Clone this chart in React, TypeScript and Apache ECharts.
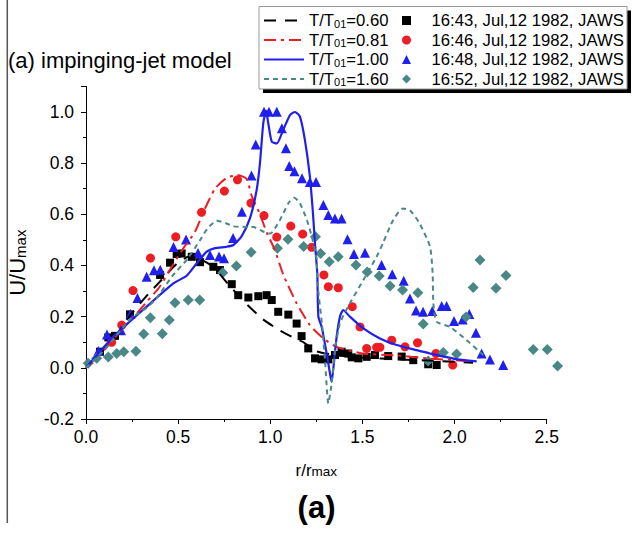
import React, { useEffect, useRef } from "react";
import * as echarts from "echarts";

const FONT = "'Liberation Sans', Arial, Helvetica, sans-serif";

// ---- observed data (JAWS, Jul 12 1982) ----
const jaws1643X = [0.076, 0.121, 0.157, 0.239, 0.402, 0.456, 0.492, 0.519, 0.574, 0.619, 0.691, 0.727, 0.791, 0.826, 0.881, 0.935, 0.98, 1.008, 1.043, 1.098, 1.143, 1.17, 1.206, 1.243, 1.279, 1.315, 1.351, 1.387, 1.423, 1.442, 1.478, 1.523, 1.568, 1.64, 1.713, 1.776, 1.857, 1.903];
const jaws1643Y = [0.063, 0.119, 0.125, 0.209, 0.363, 0.411, 0.445, 0.447, 0.434, 0.413, 0.395, 0.382, 0.327, 0.284, 0.275, 0.28, 0.284, 0.265, 0.219, 0.208, 0.173, 0.124, 0.076, 0.037, 0.033, 0.033, 0.05, 0.063, 0.056, 0.041, 0.037, 0.043, 0.05, 0.046, 0.044, 0.03, 0.014, 0.011];

const jaws1646X = [0.139, 0.194, 0.255, 0.35, 0.487, 0.627, 0.751, 0.822, 0.895, 0.966, 1.035, 1.111, 1.176, 1.225, 1.291, 1.315, 1.369, 1.445, 1.487, 1.523, 1.577, 1.595, 1.659, 1.731, 1.799, 1.899, 1.99];
const jaws1646Y = [0.1, 0.167, 0.302, 0.429, 0.512, 0.608, 0.691, 0.735, 0.644, 0.595, 0.511, 0.554, 0.523, 0.471, 0.363, 0.317, 0.313, 0.239, 0.16, 0.076, 0.08, 0.08, 0.108, 0.082, 0.098, 0.056, 0.011];

const jaws1648X = [0.067, 0.114, 0.19, 0.241, 0.279, 0.329, 0.369, 0.403, 0.475, 0.543, 0.608, 0.673, 0.722, 0.749, 0.798, 0.846, 0.898, 0.921, 0.966, 0.993, 1.035, 1.063, 1.085, 1.103, 1.131, 1.172, 1.215, 1.248, 1.288, 1.315, 1.351, 1.387, 1.419, 1.454, 1.514, 1.604, 1.662, 1.724, 1.758, 1.791, 1.829, 1.879, 1.93, 1.957, 1.997, 2.044, 2.08, 2.116, 2.147, 2.192, 2.264];
const jaws1648Y = [0.066, 0.13, 0.147, 0.21, 0.273, 0.356, 0.381, 0.383, 0.472, 0.502, 0.449, 0.441, 0.435, 0.428, 0.507, 0.61, 0.752, 0.873, 1.001, 1.001, 1.001, 0.936, 0.858, 0.789, 0.768, 0.741, 0.726, 0.726, 0.636, 0.597, 0.584, 0.584, 0.503, 0.445, 0.45, 0.402, 0.366, 0.34, 0.271, 0.224, 0.219, 0.222, 0.242, 0.242, 0.183, 0.189, 0.21, 0.137, 0.056, 0.033, 0.011];

const jaws1652X = [0.012, 0.058, 0.121, 0.167, 0.205, 0.271, 0.313, 0.349, 0.414, 0.452, 0.483, 0.555, 0.617, 0.742, 0.816, 0.896, 1.039, 1.096, 1.181, 1.245, 1.273, 1.32, 1.369, 1.465, 1.526, 1.591, 1.65, 1.718, 1.801, 1.83, 1.857, 1.939, 2.011, 2.062, 2.101, 2.138, 2.225, 2.279, 2.427, 2.503, 2.559];
const jaws1652Y = [0.018, 0.037, 0.042, 0.056, 0.063, 0.065, 0.132, 0.196, 0.133, 0.187, 0.254, 0.265, 0.265, 0.372, 0.398, 0.452, 0.467, 0.503, 0.474, 0.512, 0.447, 0.415, 0.434, 0.402, 0.375, 0.359, 0.32, 0.304, 0.293, 0.171, 0.027, 0.06, 0.054, 0.199, 0.314, 0.421, 0.311, 0.361, 0.072, 0.072, 0.007];

// ---- impinging-jet model curves ----
const model060X = [0, 0.08, 0.17, 0.24, 0.34, 0.4, 0.49, 0.56, 0.62, 0.69, 0.78, 0.87, 0.96, 1.05, 1.12, 1.18, 1.25, 1.35, 1.5, 1.7, 1.9, 2.1];
const model060Y = [0, 0.065, 0.13, 0.206, 0.29, 0.336, 0.405, 0.435, 0.425, 0.395, 0.32, 0.25, 0.19, 0.147, 0.12, 0.1, 0.065, 0.05, 0.04, 0.033, 0.027, 0.02];

const model081X = [0, 0.1, 0.184, 0.26, 0.33, 0.4, 0.465, 0.528, 0.59, 0.646, 0.7, 0.76, 0.82, 0.87, 0.9, 0.944, 0.98, 1.025, 1.07, 1.143, 1.215, 1.288, 1.36, 1.5, 1.69, 1.85, 2.1];
const model081Y = [0, 0.07, 0.141, 0.2, 0.258, 0.317, 0.395, 0.467, 0.53, 0.623, 0.7, 0.741, 0.754, 0.74, 0.67, 0.6, 0.53, 0.46, 0.365, 0.252, 0.167, 0.115, 0.082, 0.056, 0.048, 0.037, 0.025];

const model100X = [0, 0.148, 0.329, 0.474, 0.546, 0.6, 0.655, 0.7, 0.76, 0.8, 0.845, 0.89, 0.926, 0.944, 0.962, 0.977, 0.989, 1.008, 1.035, 1.07, 1.107, 1.134, 1.161, 1.188, 1.215, 1.233, 1.243, 1.255, 1.261, 1.279, 1.306, 1.324, 1.333, 1.345, 1.36, 1.378, 1.396, 1.432, 1.505, 1.595, 1.686, 1.794, 1.867, 2.0, 2.12];
const model100Y = [0, 0.121, 0.239, 0.33, 0.36, 0.408, 0.454, 0.468, 0.473, 0.48, 0.515, 0.585, 0.695, 0.8, 0.956, 1.005, 0.956, 0.884, 0.877, 0.93, 0.988, 1.0, 0.982, 0.89, 0.747, 0.59, 0.48, 0.369, 0.2, 0.16, 0.056, -0.022, -0.055, 0.017, 0.121, 0.2, 0.226, 0.2, 0.154, 0.115, 0.089, 0.069, 0.056, 0.035, 0.025];

const model160X = [0, 0.1, 0.24, 0.33, 0.38, 0.47, 0.55, 0.62, 0.66, 0.71, 0.76, 0.8, 0.85, 0.91, 0.97, 1.0, 1.05, 1.1, 1.13, 1.16, 1.2, 1.23, 1.25, 1.26, 1.28, 1.297, 1.315, 1.333, 1.351, 1.378, 1.432, 1.505, 1.577, 1.613, 1.667, 1.72, 1.76, 1.81, 1.867, 1.881, 1.885, 1.903, 1.975, 2.066, 2.156];
const model160Y = [0, 0.07, 0.19, 0.235, 0.27, 0.36, 0.425, 0.5, 0.545, 0.575, 0.565, 0.553, 0.551, 0.55, 0.53, 0.525, 0.575, 0.645, 0.665, 0.645, 0.575, 0.5, 0.43, 0.304, 0.174, 0.03, -0.139, -0.061, 0.069, 0.174, 0.252, 0.343, 0.434, 0.49, 0.578, 0.623, 0.614, 0.565, 0.473, 0.369, 0.252, 0.18, 0.16, 0.108, 0.05];

const modelNames = ["T/T01=0.60", "T/T01=0.81", "T/T01=1.00", "T/T01=1.60"];
const jawsNames = ["16:43, Jul,12 1982, JAWS", "16:46, Jul,12 1982, JAWS", "16:48, Jul,12 1982, JAWS", "16:52, Jul,12 1982, JAWS"];

const BLACK = "#000000";
const RED = "#ee1d23";
const BLUE = "#2020ee";
const TEAL = "#4a8888";

function pairs(xs: number[], ys: number[]) {
  return xs.map((x, i) => [x, ys[i]]);
}

export default function App() {
  const ref = useRef<HTMLDivElement>(null);
  useEffect(() => {
    const chart = echarts.init(ref.current!, undefined, { renderer: "svg" });
    const txt = { fontFamily: FONT, color: "#000" };
    chart.setOption({
      animation: false,
      backgroundColor: "#ffffff",
      title: [
        {
          text: "(a) impinging-jet model",
          left: 8,
          top: 49,
          padding: 0,
          textStyle: { ...txt, fontSize: 22, fontWeight: "normal" },
        },
        {
          text: "(a)",
          left: "center",
          top: 492,
          padding: 0,
          textStyle: { ...txt, fontSize: 31, fontWeight: "bold" },
        },
      ],
      graphic: [
        {
          type: "line",
          z: 0,
          shape: { x1: 7.3, y1: 0, x2: 7.3, y2: 523 },
          style: { stroke: "#555", lineWidth: 1.5 },
        },
        {
          type: "rect",
          z: 0,
          shape: { x: 263, y: 10.5, width: 368, height: 82.5 },
          style: { fill: "#000" },
        },
        {
          type: "rect",
          z: 0,
          shape: { x: 259, y: 6.5, width: 368, height: 82.5 },
          style: { fill: "#fff", stroke: "#999", lineWidth: 1 },
        },
      ],
      legend: [
        {
          data: modelNames,
          orient: "vertical",
          left: 263,
          top: 12,
          padding: 0,
          itemWidth: 40,
          itemHeight: 14,
          itemGap: 2.5,
          selectedMode: false,
          itemStyle: { opacity: 0, borderWidth: 0 },
          formatter: (name: string) => `{a|T/T}{s|01}{a|=${name.split("=")[1]}}`,
          textStyle: {
            ...txt,
            fontSize: 16.7,
            rich: {
              a: { ...txt, fontSize: 16.7 },
              s: { ...txt, fontSize: 11, lineHeight: 11, verticalAlign: "bottom" },
            },
          },
        },
        {
          data: jawsNames,
          orient: "vertical",
          left: 402,
          top: 12,
          padding: 0,
          itemWidth: 9,
          itemHeight: 9,
          itemGap: 2.5,
          selectedMode: false,
          textStyle: { ...txt, fontSize: 16.7, padding: [0, 0, 0, 15.5] },
        },
      ],
      grid: { left: 86, right: 86.3, top: 86.4, bottom: 114, outerBoundsMode: "none", containLabel: false },
      xAxis: {
        type: "value",
        min: 0,
        max: 2.5,
        interval: 0.5,
        name: "{a|r/r}{b|max}",
        nameLocation: "middle",
        nameGap: 37,
        nameTextStyle: {
          rich: {
            a: { ...txt, fontSize: 17, lineHeight: 17, verticalAlign: "top" },
            b: { ...txt, fontSize: 13.5, lineHeight: 13.5, padding: [14, 0, 0, 0], verticalAlign: "bottom" },
          },
        },
        axisLine: { onZero: false, lineStyle: { color: "#000", width: 1 } },
        axisTick: { length: 5, lineStyle: { color: "#000" } },
        minorTick: { show: true, splitNumber: 2, length: 3, lineStyle: { color: "#000" } },
        splitLine: { show: false },
        minorSplitLine: { show: false },
        axisLabel: { ...txt, fontSize: 17.5, margin: 9, formatter: (v: number) => v.toFixed(1) },
      },
      yAxis: {
        type: "value",
        min: -0.2,
        max: 1.1,
        interval: 0.2,
        name: "{a|U/U}{b|max}",
        nameLocation: "middle",
        nameGap: 58,
        nameTextStyle: {
          padding: [0, 20, 0, 0],
          rich: {
            a: { ...txt, fontSize: 22, lineHeight: 22, verticalAlign: "top" },
            b: { ...txt, fontSize: 15, lineHeight: 15, padding: [15, 0, 0, 0], verticalAlign: "bottom" },
          },
        },
        axisLine: { onZero: false, lineStyle: { color: "#000", width: 1 } },
        axisTick: { length: 5, lineStyle: { color: "#000" } },
        minorTick: { show: true, splitNumber: 2, length: 3, lineStyle: { color: "#000" } },
        splitLine: { show: false },
        minorSplitLine: { show: false },
        axisLabel: {
          ...txt,
          fontSize: 17.5,
          margin: 12,
          showMaxLabel: false,
          formatter: (v: number) => v.toFixed(1),
        },
      },
      series: [
        {
          name: modelNames[0],
          type: "line",
          data: pairs(model060X, model060Y),
          symbol: "none",
          smooth: 0.2,
          lineStyle: { color: BLACK, width: 2, type: [12, 9] },
          itemStyle: { color: BLACK },
        },
        {
          name: modelNames[1],
          type: "line",
          data: pairs(model081X, model081Y),
          symbol: "none",
          smooth: 0.2,
          lineStyle: { color: RED, width: 2, type: [12, 5, 3, 5] },
          itemStyle: { color: RED },
        },
        {
          name: modelNames[2],
          type: "line",
          data: pairs(model100X, model100Y),
          symbol: "none",
          smooth: 0.2,
          lineStyle: { color: BLUE, width: 2.2 },
          itemStyle: { color: BLUE },
        },
        {
          name: modelNames[3],
          type: "line",
          data: pairs(model160X, model160Y),
          symbol: "none",
          smooth: 0.2,
          lineStyle: { color: TEAL, width: 2, type: [5, 4] },
          itemStyle: { color: TEAL },
        },
        {
          name: jawsNames[0],
          type: "scatter",
          data: pairs(jaws1643X, jaws1643Y),
          symbol: "rect",
          symbolSize: 8,
          itemStyle: { color: BLACK, opacity: 1 },
        },
        {
          name: jawsNames[1],
          type: "scatter",
          data: pairs(jaws1646X, jaws1646Y),
          symbol: "circle",
          symbolSize: 9,
          itemStyle: { color: RED, opacity: 1 },
        },
        {
          name: jawsNames[2],
          type: "scatter",
          data: pairs(jaws1648X, jaws1648Y),
          symbol: "triangle",
          symbolSize: 10,
          itemStyle: { color: BLUE, opacity: 1 },
        },
        {
          name: jawsNames[3],
          type: "scatter",
          data: pairs(jaws1652X, jaws1652Y),
          symbol: "diamond",
          symbolSize: 11,
          clip: false,
          itemStyle: { color: TEAL, opacity: 1 },
        },
      ],
    });
    return () => chart.dispose();
  }, []);
  return (
    <div
      ref={ref}
      style={{ position: "fixed", left: 0, top: 0, width: 633, height: 533, background: "#fff" }}
    />
  );
}
